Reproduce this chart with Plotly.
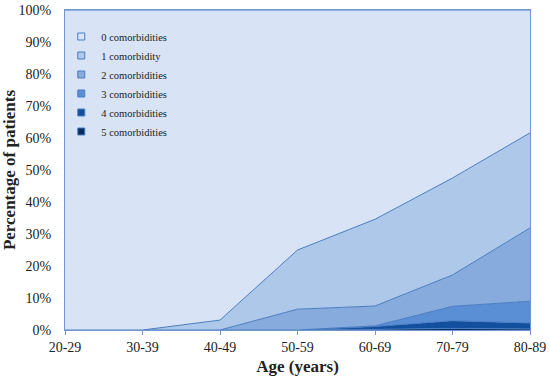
import plotly.graph_objects as go

ages = ["20-29", "30-39", "40-49", "50-59", "60-69", "70-79", "80-89"]
c5 = [0, 0, 0, 0, 0.2, 0.5, 0.3]
c4 = [0, 0, 0, 0, 0.9, 2.4, 1.9]
c3 = [0, 0, 0, 0, 0.2, 4.5, 6.8]
c2 = [0, 0, 0, 6.5, 6.2, 9.8, 22.9]
c1 = [0, 0, 3.1, 18.5, 27.1, 30.3, 29.7]
cum1 = [a + b + c + d + e for a, b, c, d, e in zip(c5, c4, c3, c2, c1)]
c0 = [100 - v for v in cum1]

names = ["5 comorbidities", "4 comorbidities", "3 comorbidities",
         "2 comorbidities", "1 comorbidity", "0 comorbidities"]
series = [c5, c4, c3, c2, c1, c0]
colors = ["#0a2c5e", "#12509f", "#5a8ed5", "#88abdd", "#aec8e9", "#d8e4f5"]

fig = go.Figure()
for name, vals, col in zip(names, series, colors):
    fig.add_trace(go.Scatter(
        x=ages, y=vals, name=name, stackgroup="one", mode="lines",
        line=dict(color="#4a7cc0", width=1), fillcolor=col, showlegend=False,
        hoverinfo="skip",
    ))
# legend entries (square swatches)
for name, col in zip(names, colors):
    fig.add_trace(go.Scatter(
        x=[None], y=[None], name=name, mode="markers",
        marker=dict(symbol="square", size=7, color=col,
                    line=dict(color="#4a7cc0", width=1)),
    ))

font = "Liberation Serif, Times New Roman, serif"
fig.update_layout(
    width=550, height=378,
    margin=dict(l=65, r=20, t=10, b=48),
    paper_bgcolor="white", plot_bgcolor="white",
    font=dict(family=font, size=14, color="#222"),
    showlegend=True,
    legend=dict(x=-0.008, y=0.9625, xanchor="left", yanchor="top",
                traceorder="reversed", bgcolor="rgba(0,0,0,0)",
                font=dict(size=10.5), itemwidth=30, tracegroupgap=0),
    xaxis=dict(type="category", range=[0, 6], showgrid=False, automargin=False,
               showline=True, linecolor="#6f97d2", linewidth=1, mirror=True,
               ticks="outside", ticklen=4, tickcolor="#6f97d2",
               title=dict(text="<b>Age (years)</b>", standoff=6)),
    yaxis=dict(range=[0, 100], dtick=10, ticksuffix="%", showgrid=False,
               automargin=False, ticklabelstandoff=10,
               showline=True, linecolor="#6f97d2", linewidth=1, mirror=True,
               ticks="", zeroline=False,
               title=dict(text="<b>Percentage of patients</b>", standoff=8)),
)
fig.write_html("out.html", config={"displayModeBar": False},
               post_script="document.body.style.margin='0';document.body.style.overflow='hidden';")
